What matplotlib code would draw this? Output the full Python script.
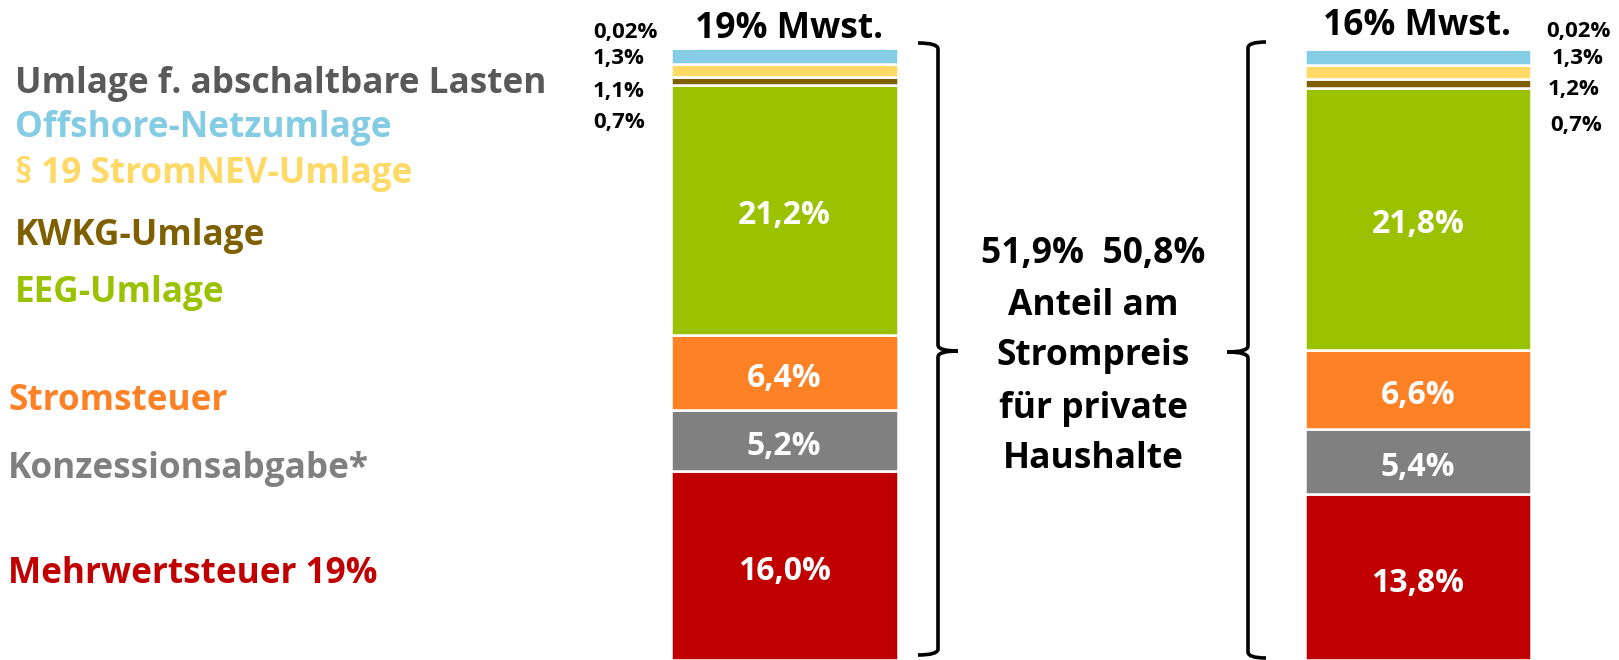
import matplotlib.pyplot as plt
from matplotlib.path import Path
import matplotlib.patches as mpatches

# Anteil am Strompreis (in %), von unten nach oben
components = ['Mehrwertsteuer', 'Konzessionsabgabe', 'Stromsteuer', 'EEG-Umlage',
              'KWKG-Umlage', 'StromNEV-Umlage', 'Offshore-Netzumlage', 'abschaltbare Lasten']
share_19 = [16.0, 5.2, 6.4, 21.2, 0.7, 1.1, 1.3, 0.02]
share_16 = [13.8, 5.4, 6.6, 21.8, 0.7, 1.2, 1.3, 0.02]
labels_19 = ['16,0%', '5,2%', '6,4%', '21,2%']
labels_16 = ['13,8%', '5,4%', '6,6%', '21,8%']
small_19 = ['0,02%', '1,3%', '1,1%', '0,7%']
small_16 = ['0,02%', '1,3%', '1,2%', '0,7%']
total_text = '51,9%  50,8%'

colors = ['#C00000', '#808080', '#FF8126', '#9BC200', '#7F6000', '#FFD966', '#85CDE5', '#595959']

legend_rows = [('Umlage f. abschaltbare Lasten', '#595959'),
               ('Offshore-Netzumlage', '#84CBE4'),
               ('§ 19 StromNEV-Umlage', '#FFD966'),
               ('KWKG-Umlage', '#7F6000'),
               ('EEG-Umlage', '#9BC200'),
               ('Stromsteuer', '#FF8126'),
               ('Konzessionsabgabe*', '#808080'),
               ('Mehrwertsteuer 19%', '#C00000')]

W, H = 1619, 660
plt.rcParams['font.family'] = ['Open Sans', 'DejaVu Sans']
plt.rcParams['font.weight'] = 'bold'
fig = plt.figure(figsize=(W / 100, H / 100), dpi=100)


def fx(x):
    return x / W


def fy(y):
    return 1 - y / H


def stacked_bar(x0, x1, ytop, values, labels):
    ax = fig.add_axes([fx(x0), 0, fx(x1) - fx(x0), fy(ytop)])
    bottom = 0
    for i, v in enumerate(values):
        ax.bar(0, v, bottom=bottom, width=1, color=colors[i], edgecolor='white', linewidth=1.8)
        if i < len(labels):
            # label a little below the segment middle, like the original
            ax.annotate(labels[i], (0, bottom + v / 2), xytext=(0, -6), textcoords='offset pixels',
                        ha='center', va='center', color='white', fontsize=23, fontweight='bold')
        bottom += v
    ax.set_xlim(-0.5, 0.5)
    ax.set_ylim(0, bottom)
    ax.axis('off')
    return ax


stacked_bar(670.7, 897.7, 48, share_19, labels_19)
stacked_bar(1305, 1531, 49, share_16, labels_16)

# legend texts on the left
legend_x = [15, 15, 15, 15, 15, 8, 8, 8]
legend_base = [93, 137, 183, 245, 302, 410, 478, 583]
for (txt, col), x, y in zip(legend_rows, legend_x, legend_base):
    fig.text(fx(x), fy(y), txt, color=col, fontsize=25.3, fontweight='bold', va='baseline', ha='left')

# titles
fig.text(fx(789), fy(38), '19% Mwst.', fontsize=25.5, fontweight='bold', ha='center', va='baseline')
fig.text(fx(1417), fy(35), '16% Mwst.', fontsize=25.5, fontweight='bold', ha='center', va='baseline')

# small values at top
for txt, y in zip(small_19, [38, 64, 97, 128]):
    fig.text(fx(593), fy(y), txt, fontsize=16, fontweight='bold', ha='left', va='baseline')
for txt, x, y in zip(small_16, [1546, 1552, 1548, 1550], [37, 64, 95, 131]):
    fig.text(fx(x), fy(y), txt, fontsize=16, fontweight='bold', ha='left', va='baseline')

# center text
center_lines = [total_text, 'Anteil am', 'Strompreis', 'für private', 'Haushalte']
for txt, y in zip(center_lines, [263, 315, 365, 418, 468]):
    fig.text(fx(1093), fy(y), txt, fontsize=25.5, fontweight='bold', ha='center', va='baseline')


def brace(x_line, x_hook, x_tip, y_top, y_mid, y_bot, r=6):
    pts = [(x_hook, y_top), (x_line, y_top), (x_line, y_top + r),
           (x_line, y_mid - r), (x_line, y_mid), (x_tip, y_mid),
           (x_line, y_mid), (x_line, y_mid + r),
           (x_line, y_bot - r), (x_line, y_bot), (x_hook, y_bot)]
    codes = [Path.MOVETO, Path.CURVE3, Path.CURVE3,
             Path.LINETO, Path.CURVE3, Path.CURVE3,
             Path.CURVE3, Path.CURVE3,
             Path.LINETO, Path.CURVE3, Path.CURVE3]
    path = Path([(fx(a), fy(b)) for a, b in pts], codes)
    fig.patches.append(mpatches.PathPatch(path, transform=fig.transFigure, fill=False,
                                          edgecolor='black', linewidth=2.6, capstyle='butt'))


brace(938, 918, 958, 43, 351, 655)
brace(1248, 1266, 1227, 42, 352, 658)

fig.savefig('out.png', dpi=100)
